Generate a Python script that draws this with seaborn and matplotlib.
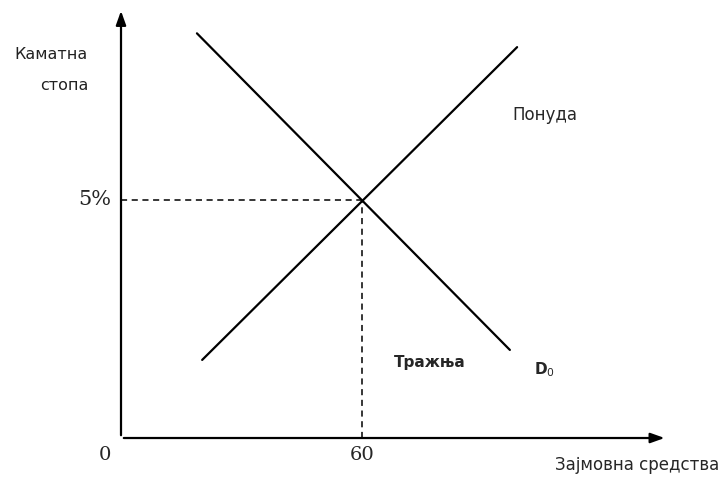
import matplotlib
matplotlib.use("Agg")
import matplotlib.pyplot as plt
import seaborn as sns
import pandas as pd

sns.set_theme(style="white")
plt.rcParams['font.family'] = ['DejaVu Sans']

# data
supply_x = [20.2, 98.6]
supply_y = [1.64, 8.21]
demand_x = [18.9, 96.8]
demand_y = [8.5, 1.85]
eq_x = 60
eq_y = 5
x_tick_labels = ["0", "60"]
y_tick_label = "5%"

df = pd.DataFrame({
    "x": supply_x + demand_x,
    "y": supply_y + demand_y,
    "curve": ["Понуда"] * 2 + ["Тражња"] * 2,
})

fig = plt.figure(figsize=(7.22, 4.82), dpi=100)
ax = fig.add_axes([0, 0, 1, 1])
sns.lineplot(data=df, x="x", y="y", units="curve", estimator=None,
             color="black", lw=1.6, ax=ax, legend=False, sort=False)

ax.set_xlim(-30.12, 149.6)
ax.set_ylim(-0.924, 9.2)
ax.axis("off")

# axes with arrows
ax.annotate("", xy=(136, 0), xytext=(0, 0),
            arrowprops=dict(arrowstyle="-|>,head_length=0.7,head_width=0.25", color="black", lw=1.6))
ax.annotate("", xy=(0, 9.03), xytext=(0, 0),
            arrowprops=dict(arrowstyle="-|>,head_length=0.7,head_width=0.25", color="black", lw=1.6))

# dashed guides
ax.plot([0, eq_x], [eq_y, eq_y], ls=(0, (4, 3)), color="black", lw=1.1)
ax.plot([eq_x, eq_x], [0, eq_y], ls=(0, (4, 3)), color="black", lw=1.1)

# labels
ax.text(-8.2, 8.05, "Каматна", ha="right", va="center", fontsize=11.5, color="#222")
ax.text(-8.2, 7.4, "стопа", ha="right", va="center", fontsize=11.5, color="#222")
ax.text(-2.5, eq_y, y_tick_label, ha="right", va="center", fontsize=15, family="DejaVu Serif")
ax.text(-4, -0.36, x_tick_labels[0], ha="center", va="center", fontsize=14, family="DejaVu Serif")
ax.text(eq_x, -0.36, x_tick_labels[1], ha="center", va="center", fontsize=14, family="DejaVu Serif")
ax.text(105.5, 6.78, "Понуда", ha="center", va="center", fontsize=12)
ax.text(76.9, 1.58, "Тражња", ha="center", va="center", fontsize=11, fontweight="bold")
ax.text(105.5, 1.44, "D$_0$", ha="center", va="center", fontsize=11, fontweight="bold")
ax.text(148.8, -0.57, "Зајмовна средства", ha="right", va="center", fontsize=12)

fig.savefig("out.png", dpi=100)
